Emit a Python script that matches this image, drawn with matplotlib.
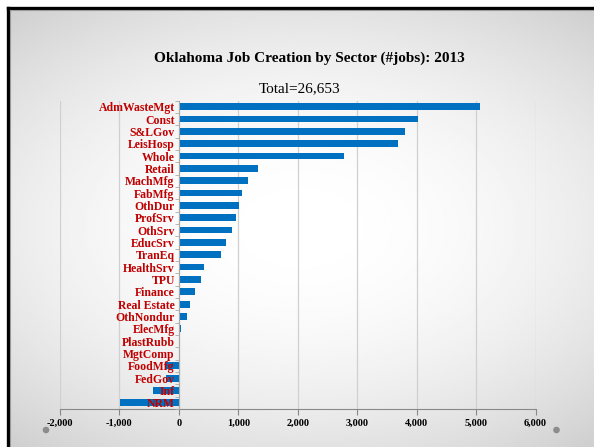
import numpy as np
import matplotlib
matplotlib.use('Agg')
from matplotlib import pyplot as plt
from matplotlib.patches import Circle
from matplotlib.lines import Line2D

# sectors, top to bottom
sectors = ['AdmWasteMgt', 'Const', 'S&LGov', 'LeisHosp', 'Whole', 'Retail',
           'MachMfg', 'FabMfg', 'OthDur', 'ProfSrv', 'OthSrv', 'EducSrv',
           'TranEq', 'HealthSrv', 'TPU', 'Finance', 'Real Estate', 'OthNondur',
           'ElecMfg', 'PlastRubb', 'MgtComp', 'FoodMfg', 'FedGov', 'Inf', 'NRM']
jobs = [5070, 4030, 3810, 3680, 2770, 1330,
        1170, 1060, 1010, 955, 900, 800,
        705, 425, 365, 265, 185, 135,
        28, 8, -5, -210, -215, -435, -985]
xticks = [-2000, -1000, 0, 1000, 2000, 3000, 4000, 5000, 6000]

plt.rcParams['font.family'] = ['Liberation Serif', 'DejaVu Serif']

W, H = 594, 447
fig = plt.figure(figsize=(5.94, 4.47), dpi=100, facecolor='white')

# slide background: light centre, grey edges
bg = fig.add_axes([0, 0, 1, 1])
bg.set_xlim(0, W)
bg.set_ylim(H, 0)
bg.axis('off')
yy, xx = np.mgrid[-1:1:200j, -1:1:260j]
r = np.sqrt((xx * 0.85) ** 2 + (yy * 1.0) ** 2)
bg.imshow(1 - 0.11 * np.clip(r, 0, 1.3) ** 2, cmap='gray', vmin=0, vmax=1,
          extent=[8, W, H, 9], aspect='auto', interpolation='bilinear')
# black frame at top and left, grey shadow inside
bg.add_line(Line2D([7.5, 7.5], [H, 7.5], color='black', lw=2.4, solid_capstyle='projecting'))
bg.add_line(Line2D([7.5, W], [7.5, 7.5], color='black', lw=2.4, solid_capstyle='projecting'))
bg.add_line(Line2D([9.5, 9.5], [H, 9.5], color='#9a9a9a', lw=0.8))
bg.add_line(Line2D([9.5, W], [9.5, 9.5], color='#9a9a9a', lw=0.8))
bg.add_patch(Circle((46, 430), 2.6, color='#8c8c8c'))
bg.add_patch(Circle((556.5, 430), 2.6, color='#8c8c8c'))

fig.text(0.52, 1 - 58 / H, 'Oklahoma Job Creation by Sector (#jobs): 2013',
         ha='center', va='center', fontsize=11, fontweight='bold')
fig.text(0.505, 1 - 89 / H, 'Total=26,653', ha='center', va='center', fontsize=11)

ax = fig.add_axes([60 / W, 1 - 409 / H, 475.5 / W, 308.5 / H])
ax.patch.set_alpha(0)
y = np.arange(len(sectors))
ax.barh(y, jobs, height=0.55, color='#0070c0', zorder=1)
ax.set_ylim(len(sectors) - 0.5, -0.5)
ax.set_xlim(-2000, 6000)
ax.set_xticks(xticks)
ax.set_xticklabels(['{:,}'.format(v) for v in xticks], fontsize=7.5, fontweight='bold')
ax.grid(axis='x', color='#d0d0d0', lw=0.9)
ax.set_axisbelow(True)
ax.tick_params(axis='x', length=4, color='#888888', pad=3)

ax.spines['left'].set_position(('data', 0))
ax.spines['left'].set_color('#aaaaaa')
ax.spines['bottom'].set_color('#888888')
ax.spines['top'].set_visible(False)
ax.spines['right'].set_visible(False)
ax.set_yticks(y)
ax.set_yticklabels(sectors, fontsize=8.5, fontweight='bold', color='#c00000')
ax.set_yticks(np.arange(len(sectors) + 1) - 0.5, minor=True)
ax.tick_params(axis='y', which='major', length=0, pad=3)
ax.tick_params(axis='y', which='minor', length=3, color='#aaaaaa')
ax.yaxis.set_zorder(5)
ax.spines['left'].set_zorder(5)

plt.savefig('out.png', dpi=100, facecolor='white')
